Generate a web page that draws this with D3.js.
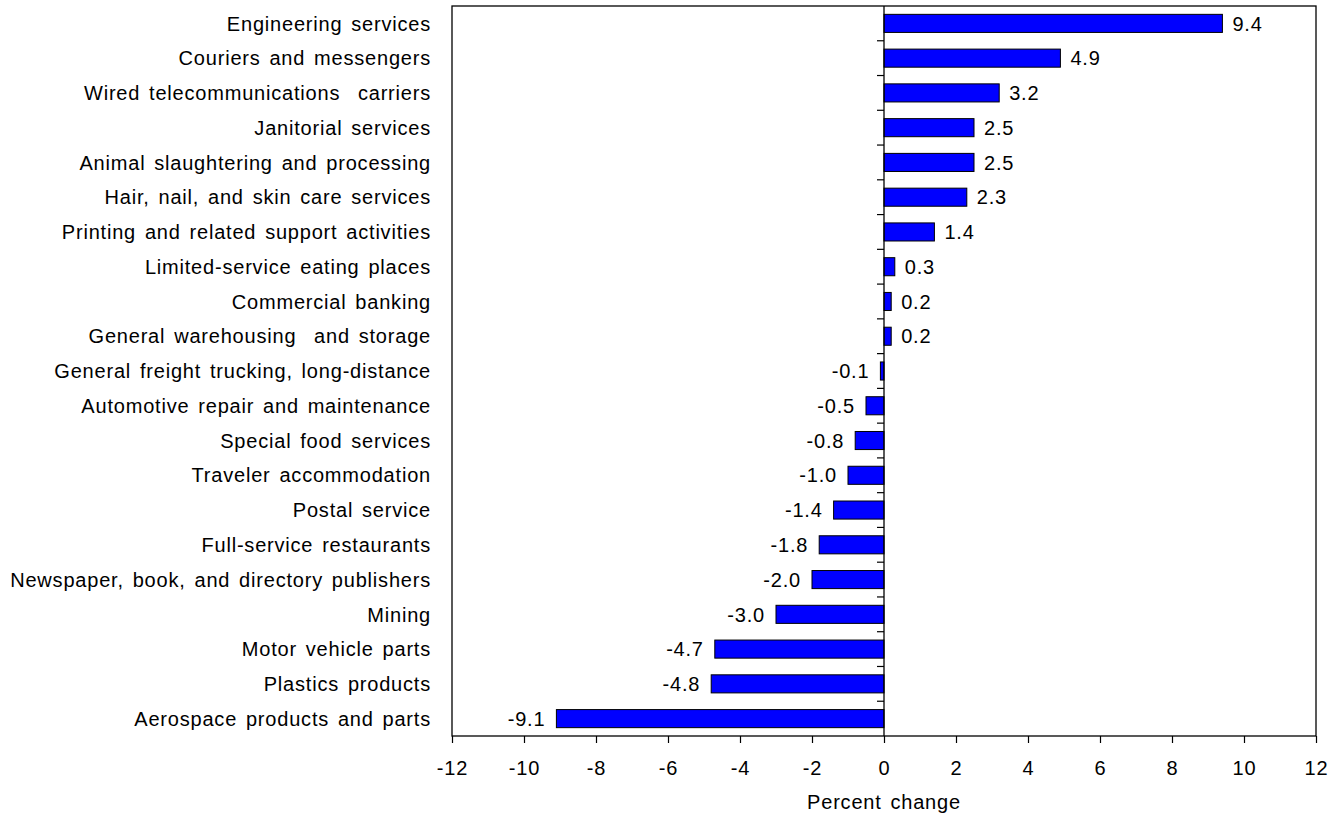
<!DOCTYPE html>
<html>
<head>
<meta charset="utf-8">
<script src="https://cdn.jsdelivr.net/npm/d3@7"></script>
<style>
  body { margin: 0; background: #fff; }
  text { font-family: "Liberation Sans", Arial, sans-serif; fill: #000; font-size: 20px; letter-spacing: 0.8px; word-spacing: 2.5px; }
</style>
</head>
<body>
<svg width="1342" height="814"></svg>
<script>
var industries = [
  "Engineering services",
  "Couriers and messengers",
  "Wired telecommunications  carriers",
  "Janitorial services",
  "Animal slaughtering and processing",
  "Hair, nail, and skin care services",
  "Printing and related support activities",
  "Limited-service eating places",
  "Commercial banking",
  "General warehousing  and storage",
  "General freight trucking, long-distance",
  "Automotive repair and maintenance",
  "Special food services",
  "Traveler accommodation",
  "Postal service",
  "Full-service restaurants",
  "Newspaper, book, and directory publishers",
  "Mining",
  "Motor vehicle parts",
  "Plastics products",
  "Aerospace products and parts"
];
var pctChange = [9.4, 4.9, 3.2, 2.5, 2.5, 2.3, 1.4, 0.3, 0.2, 0.2, -0.1, -0.5, -0.8, -1.0, -1.4, -1.8, -2.0, -3.0, -4.7, -4.8, -9.1];
var xTicks = [-12, -10, -8, -6, -4, -2, 0, 2, 4, 6, 8, 10, 12];

var margin = { top: 6, right: 26, bottom: 78, left: 452 },
  width = 1342 - margin.left - margin.right,
  height = 814 - margin.top - margin.bottom;

var data = industries.map((d, i) => ({ name: d, value: pctChange[i] }));

var svg = d3.select("svg");
var g = svg.append("g").attr("transform", `translate(${margin.left},${margin.top})`);

var x = d3.scaleLinear().domain([-12, 12]).range([0, width]);
var y = d3.scaleBand().domain(industries).range([0, height]).paddingInner(0.48).paddingOuter(0.24);

// plain hyphen for negatives, like the original
var fmt = v => d3.format(".1f")(v).replace("\u2212", "-");

// frame
g.append("rect")
  .attr("x", 0).attr("y", 0)
  .attr("width", width).attr("height", height)
  .attr("fill", "none").attr("stroke", "#000").attr("stroke-width", 1.3);

// bars
g.selectAll(".bar")
  .data(data)
  .enter().append("rect")
  .attr("class", "bar")
  .attr("x", d => x(Math.min(0, d.value)))
  .attr("y", d => y(d.name))
  .attr("width", d => Math.abs(x(d.value) - x(0)))
  .attr("height", y.bandwidth())
  .attr("fill", "#0000ff")
  .attr("stroke", "#000")
  .attr("stroke-width", 1);

// zero line with category boundary ticks
var step = y.step();
g.append("line")
  .attr("x1", x(0)).attr("x2", x(0))
  .attr("y1", 0).attr("y2", height)
  .attr("stroke", "#000").attr("stroke-width", 1.3);

g.selectAll(".ytick")
  .data(industries.slice(1))
  .enter().append("line")
  .attr("class", "ytick")
  .attr("x1", x(0) - 7).attr("x2", x(0))
  .attr("y1", d => y(d) - step * y.paddingInner() / 2)
  .attr("y2", d => y(d) - step * y.paddingInner() / 2)
  .attr("stroke", "#000").attr("stroke-width", 1.2);

// value labels
g.selectAll(".val")
  .data(data)
  .enter().append("text")
  .attr("class", "val")
  .attr("x", d => d.value >= 0 ? x(d.value) + 10 : x(d.value) - 11)
  .attr("y", d => y(d.name) + y.bandwidth() / 2)
  .attr("dy", "0.36em")
  .attr("text-anchor", d => d.value >= 0 ? "start" : "end")
  .text(d => fmt(d.value));

// category labels
g.selectAll(".cat")
  .data(data)
  .enter().append("text")
  .attr("class", "cat")
  .attr("x", -21)
  .attr("y", d => y(d.name) + y.bandwidth() / 2)
  .attr("dy", "0.36em")
  .attr("text-anchor", "end")
  .style("white-space", "pre")
  .text(d => d.name);

// x axis
var xAxis = g.append("g")
  .attr("transform", `translate(0,${height})`)
  .call(d3.axisBottom(x).tickValues(xTicks).tickSize(7).tickPadding(18).tickFormat(d3.format("d")));
xAxis.select(".domain").remove();
xAxis.selectAll("line").attr("stroke-width", 1.2);
xAxis.selectAll("text")
  .attr("font-size", null)
  .attr("font-family", null)
  .style("font-size", "20px")
  .style("font-family", "'Liberation Sans', Arial, sans-serif")
  .text(d => d < 0 ? "-" + Math.abs(d) : d);

g.append("text")
  .attr("x", x(0))
  .attr("y", height + 66)
  .attr("dy", "0.36em")
  .attr("text-anchor", "middle")
  .text("Percent change");
</script>
</body>
</html>
